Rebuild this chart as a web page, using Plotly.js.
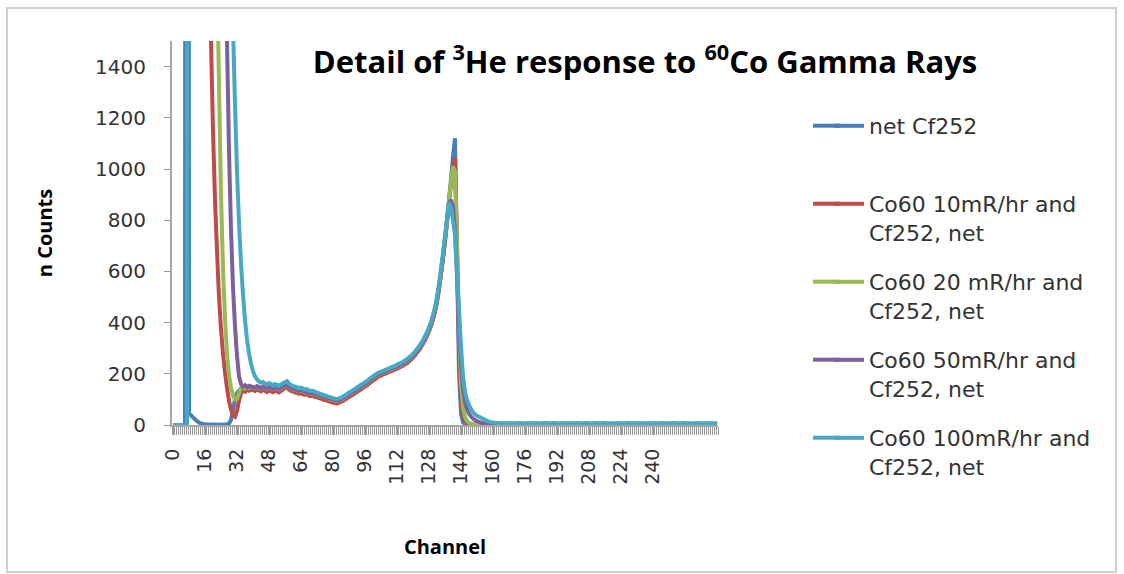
<!DOCTYPE html>
<html>
<head>
<meta charset="utf-8">
<script src="https://cdn.plot.ly/plotly-3.0.1.min.js"></script>
<style>html,body{margin:0;padding:0;background:#fff;}#chart{width:1124px;height:574px;}</style>
</head>
<body>
<div id="chart"></div>
<script>
// Channel tick labels shown on the category axis
var tickChannels = [0,16,32,48,64,80,96,112,128,144,160,176,192,208,224,240];
var tickLabels = ['0','16','32','48','64','80','96','112','128','144','160','176','192','208','224','240'];
var yTicks = [0,200,400,600,800,1000,1200,1400];

var seriesNames = [
  'net Cf252',
  'Co60 10mR/hr and<br>Cf252, net',
  'Co60 20 mR/hr and<br>Cf252, net',
  'Co60 50mR/hr and<br>Cf252, net',
  'Co60 100mR/hr and<br>Cf252, net'
];

var netCf252 = [
0,0,0,0,0,0,0,20000,45,38,
30,22,15,10,6,4,3,2,2,2,
1,2,1,1,2,1,2,3,5,20,
60,100,125,135,140,138,142,146,144,148,
146,143,148,145,141,146,144,140,145,142,
139,143,140,138,142,146,151,154,147,141,
139,136,134,131,133,129,127,128,123,121,
122,118,116,114,111,108,107,104,101,99,
96,94,93,95,97,101,106,111,117,121,
126,131,137,141,147,151,157,161,168,174,
180,186,191,196,199,202,206,209,212,216,
219,222,226,229,233,237,242,247,254,261,
269,277,287,297,309,322,337,353,372,392,
418,447,487,537,597,657,727,800,880,960,
1050,1120,640,200,45,10,3,2,1,1,
1,0,1,1,0,1,1,0,1,1,
0,1,1,0,1,0,1,1,0,1,
1,0,1,0,1,1,0,1,0,1,
1,0,0,1,1,0,1,1,0,1,
0,1,1,0,1,0,1,0,1,1,
0,1,0,1,1,0,1,1,0,0,
1,1,0,1,0,1,1,0,1,0,
1,0,1,1,0,1,0,1,1,0,
1,1,0,1,0,0,1,1,0,1,
0,1,1,0,1,1,0,1,0,1,
1,0,1,0,1,1,0,1,1,0,
1,0,1,1,0,1,0,1,0,1,
1,0,1];

var co60_10 = [
0,0,0,0,0,0,0,0,20000,16000,
12500,10000,8000,6400,5100,4100,3300,2600,2000,1500,
1150,880,680,500,375,280,205,145,95,60,
38,32,55,95,125,135,130,137,134,140,
136,133,140,135,131,137,134,129,136,132,
128,134,131,127,133,139,145,148,139,133,
131,127,126,122,125,120,118,120,114,113,
114,109,108,105,103,99,98,95,92,90,
87,86,84,88,90,94,99,104,109,114,
119,124,129,135,139,145,150,155,161,167,
173,179,185,190,193,197,200,203,207,210,
213,217,220,224,228,231,237,241,249,255,
263,272,282,292,304,317,331,348,366,386,
412,440,480,530,590,650,720,790,870,940,
1000,1045,700,300,100,40,18,9,5,3,
3,2,3,2,3,3,2,3,2,3,
2,3,3,2,3,2,3,3,2,3,
3,2,3,3,2,3,2,3,3,2,
3,3,2,3,2,3,3,2,3,3,
2,3,3,2,3,3,2,3,2,3,
3,2,3,3,2,3,3,2,3,2,
3,3,2,3,3,2,3,2,3,3,
2,3,2,3,3,2,3,3,2,3,
3,2,3,3,2,3,2,3,3,2,
3,3,2,3,2,3,3,2,3,3,
2,3,3,2,3,2,3,3,2,3,
3,2,3,3,2,3,3,2,3,2,
3,3,2];

var co60_20 = [
0,0,0,0,0,0,0,0,26000,21000,
17000,14000,11500,9500,8000,6800,5800,5000,4300,3700,
3000,2300,1780,1330,900,610,415,280,195,145,
115,100,102,125,145,150,143,148,145,151,
147,144,150,146,142,148,145,141,147,143,
140,145,142,139,143,148,153,156,148,142,
140,137,135,132,134,130,128,129,124,122,
123,119,117,115,112,109,108,105,102,100,
97,95,94,96,98,102,107,112,118,122,
127,132,138,142,148,152,158,162,169,175,
181,187,192,197,200,203,207,210,213,217,
220,223,227,230,234,238,243,248,255,262,
270,278,288,298,310,323,338,354,373,394,
420,450,490,540,600,665,735,805,880,950,
1010,990,720,380,160,70,32,16,9,6,
4,4,3,4,3,4,4,3,4,3,
4,3,4,4,3,4,3,4,4,3,
3,4,4,3,4,3,4,4,3,4,
4,3,4,3,4,4,3,4,4,3,
3,4,3,4,4,3,4,3,4,4,
4,4,3,4,3,4,4,3,4,3,
3,4,4,3,4,4,3,4,3,4,
4,3,4,4,3,4,3,4,4,3,
4,4,3,4,4,3,4,3,4,4,
3,4,4,3,4,4,3,4,3,4,
4,3,4,4,3,4,4,3,4,3,
3,4,3,4,4,3,4,4,3,4,
4,3,4];

var co60_50 = [
0,0,0,0,0,0,0,0,30000,25000,
21000,17500,15000,13000,11200,9800,8600,7500,6600,5800,
5100,4500,4000,3500,3000,2500,2050,1500,1070,760,
540,385,270,190,160,150,155,148,153,150,
149,146,152,148,144,150,147,143,149,145,
142,147,144,141,145,150,155,158,150,144,
142,139,137,134,136,132,130,131,126,124,
125,121,119,117,114,111,110,107,104,102,
99,97,96,98,100,104,109,114,120,124,
129,134,140,144,150,154,160,164,171,177,
183,189,194,199,202,205,209,212,215,219,
222,225,229,232,236,240,245,250,257,264,
272,280,290,300,312,325,340,356,375,396,
422,452,492,540,595,655,720,800,860,880,
850,760,580,400,240,140,90,62,45,33,
25,19,15,12,9,7,6,5,5,4,
5,4,5,5,4,5,4,5,5,4,
4,5,5,4,5,4,5,5,4,5,
5,4,5,4,5,5,4,5,5,4,
4,5,4,5,5,4,5,4,5,5,
5,5,4,5,4,5,5,4,5,4,
4,5,5,4,5,5,4,5,4,5,
5,4,5,5,4,5,4,5,5,4,
5,5,4,5,5,4,5,4,5,5,
4,5,5,4,5,5,4,5,4,5,
5,4,5,5,4,5,5,4,5,4,
4,5,4,5,5,4,5,5,4,5,
4,5,4];

var co60_100 = [
0,0,0,0,0,0,0,0,34000,29000,
25000,21500,18500,16000,14000,12200,10800,9600,8500,7600,
6800,6100,5500,4900,4400,3900,3450,3050,2500,1950,
1560,1250,990,790,630,510,410,335,280,240,
210,190,178,170,165,168,162,158,164,160,
155,160,157,153,158,163,168,171,162,156,
153,150,148,144,146,142,139,140,135,133,
134,129,127,124,121,118,116,113,110,108,
105,103,102,104,107,111,116,121,127,131,
136,141,147,151,157,161,167,172,178,184,
190,196,201,205,208,211,215,218,221,225,
228,231,235,239,243,247,252,257,264,271,
279,287,297,307,319,332,347,363,382,403,
430,460,500,550,610,670,735,795,868,850,
800,740,600,450,310,190,130,98,78,62,
50,42,36,32,29,24,20,16,13,11,
10,9,8,8,7,7,8,7,7,8,
7,6,7,8,7,7,6,7,8,7,
7,8,7,6,7,7,8,7,6,7,
8,7,7,6,7,8,7,7,6,7,
7,7,8,7,6,7,7,8,7,6,
7,8,7,7,6,7,8,7,7,7,
6,7,7,8,7,6,7,7,8,7,
7,6,8,7,7,7,6,7,8,7,
7,8,6,7,7,8,7,6,7,7,
8,7,7,6,7,7,8,7,7,6,
7,7,8,7,6,7,7,7,8,7,
7,7,6];

var seriesValues = [netCf252, co60_10, co60_20, co60_50, co60_100];
var seriesColors = ['#4a7ebb', '#be4b48', '#98b954', '#7d60a0', '#46aac5'];
var legendIds = ['legend', 'legend2', 'legend3', 'legend4', 'legend5'];

var channels = netCf252.map(function (v, i) { return i; });

var LINE_W = 4;
var traces = seriesValues.map(function (vals, k) {
  return {
    type: 'scatter', mode: 'lines',
    x: channels, y: vals,
    name: seriesNames[k],
    legend: legendIds[k],
    line: {color: seriesColors[k], width: LINE_W, simplify: false},
    hoverinfo: 'skip'
  };
});

var W = 1124, H = 574;
var L = 172, R = 718, T = 41, B = 425;
function px(xp) { return (xp - L) / (R - L); }
function py(yp) { return (B - yp) / (B - T); }

var legendTops = [105, 183, 261, 339, 417];
var legendFont = {family: 'DejaVu Sans', size: 22, color: '#333333'};
function mkLegend(topPx) {
  return {x: px(829), xanchor: 'left', y: py(topPx), yanchor: 'top',
          font: legendFont, bgcolor: 'rgba(0,0,0,0)', borderwidth: 0,
          valign: 'top', itemclick: false, itemdoubleclick: false};
}

// extend the short legend keys to the longer Excel-style key length
var keyShapes = legendTops.map(function (t, k) {
  return {type: 'line', xref: 'paper', yref: 'paper',
          x0: px(813), x1: px(840), y0: py(t + 20.7), y1: py(t + 20.7),
          line: {color: seriesColors[k], width: LINE_W}, layer: 'above'};
});

var layout = {
  width: W, height: H,
  margin: {l: L, r: W - R, t: T, b: H - B, pad: 0},
  paper_bgcolor: '#ffffff', plot_bgcolor: '#ffffff',
  showlegend: true,
  title: {
    text: 'Detail of <sup>3</sup>He response to <sup>60</sup>Co Gamma Rays',
    font: {family: 'Open Sans', size: 31, color: '#000000', weight: 'bold'},
    xref: 'container', yref: 'container',
    x: 645 / W, xanchor: 'center', y: 1 - 62 / H, yanchor: 'middle'
  },
  xaxis: {
    range: [-0.5, 272.5], fixedrange: true,
    tickmode: 'array', tickvals: tickChannels, ticktext: tickLabels,
    tickangle: -90,
    ticks: 'outside', ticklen: 8, tickwidth: 1, tickcolor: '#9a9a9a',
    minor: {tickmode: 'linear', tick0: -0.5, dtick: 1, ticks: 'outside',
            ticklen: 8, tickwidth: 1, tickcolor: '#9a9a9a', showgrid: false},
    showline: true, linecolor: '#a6a6a6', linewidth: 2,
    showgrid: false, zeroline: false, layer: 'below traces',
    tickfont: {family: 'DejaVu Sans', size: 19, color: '#333333'},
    ticklabelstandoff: 6,
    title: {text: 'Channel', standoff: 56,
            font: {family: 'Open Sans', size: 20, color: '#000000', weight: 'bold'}}
  },
  yaxis: {
    range: [0, 1500], fixedrange: true,
    tickmode: 'array', tickvals: yTicks,
    ticks: 'outside', ticklen: 6, tickwidth: 1, tickcolor: '#9a9a9a',
    showline: true, linecolor: '#a6a6a6', linewidth: 2,
    showgrid: false, zeroline: false, layer: 'below traces',
    tickfont: {family: 'DejaVu Sans', size: 20, color: '#333333'},
    ticklabelstandoff: 14,
    title: {text: 'n Counts', standoff: 37,
            font: {family: 'Open Sans', size: 20, color: '#000000', weight: 'bold'}}
  },
  legend: mkLegend(legendTops[0]),
  legend2: mkLegend(legendTops[1]),
  legend3: mkLegend(legendTops[2]),
  legend4: mkLegend(legendTops[3]),
  legend5: mkLegend(legendTops[4]),
  shapes: [{
    type: 'rect', xref: 'paper', yref: 'paper',
    x0: px(7), x1: px(1116), y0: py(572), y1: py(8),
    line: {color: '#d0d0d0', width: 2}, fillcolor: 'rgba(0,0,0,0)', layer: 'below'
  }].concat(keyShapes)
};

Plotly.newPlot('chart', traces, layout, {displayModeBar: false, staticPlot: true});
</script>
</body>
</html>
